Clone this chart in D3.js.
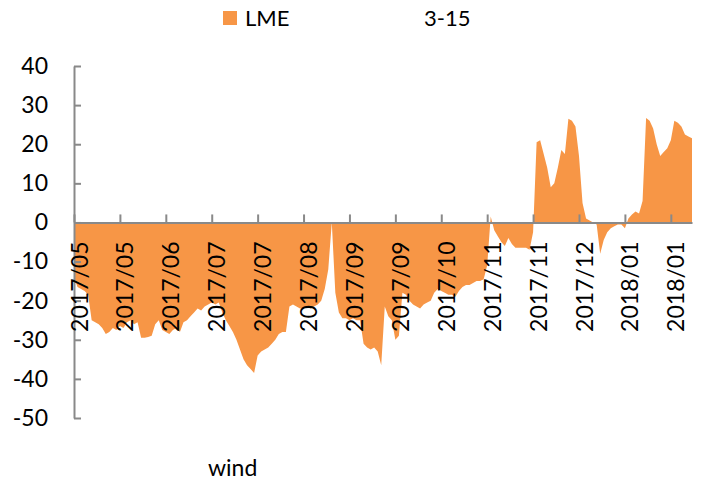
<!DOCTYPE html>
<html>
<head>
<meta charset="utf-8">
<script src="https://cdn.jsdelivr.net/npm/d3@7"></script>
<style>
  html, body { margin: 0; padding: 0; background: #fff; }
  svg { display: block; font-family: Lato, "Open Sans", sans-serif; }
</style>
</head>
<body>
<svg id="chart" width="705" height="486"></svg>
<script>
// ---- data ----
const seriesName = "LME";
const legendNote = "3-15";
const sourceNote = "wind";
const values = [
  -14, -16.5, -17, -17.5, -18.5, -25, -25.5, -26, -27, -28.5,
  -28, -27, -27.5, -26.5, -27, -25.5, -25, -26, -25.5, -29.5,
  -29.5, -29.3, -29, -26, -25, -27.5, -28, -28.5, -27.5, -27,
  -28, -25.5, -25, -24, -23, -22, -22.5, -21.5, -21, -20.5,
  -21, -20.5, -23, -25, -26.5, -28, -30, -32.5, -35, -36.5,
  -37.5, -38.5, -34, -33, -32.5, -32, -31, -30, -28.5, -28,
  -28, -21.5, -21, -21.5, -22, -22, -21.5, -22, -21.5, -21,
  -20, -17, -12, 0, -18, -23, -24.5, -24.5, -25, -24.5,
  -25, -25, -31, -32, -32.5, -32, -33, -36.5, -21.5, -24,
  -25, -30, -29, -18, -18.5, -20, -21, -21.5, -22, -21,
  -20.5, -20, -18, -17, -17.5, -18, -18.5, -18.5, -19, -17.5,
  -16.5, -16, -16, -15.5, -15, -15, -14.5, -11, 1.5, -2,
  -3.5, -5, -6, -4, -5.5, -6.5, -6.5, -6.5, -6.5, -7,
  -2.5, 20.5, 21, 17.5, 14, 9, 10, 14, 18.5, 17.5,
  26.5, 26, 24.5, 17, 5, 1, 0.5, 0, -0.5, -8,
  -4.5, -2.5, -1.5, -1, -0.5, -0.5, -1.5, 1, 2, 2.8,
  2.3, 5.5, 26.7, 26, 24, 20, 17, 18, 19, 21,
  26, 25.5, 24.5, 22.5, 22, 21.5
];
const xTickLabels = ["2017/05","2017/05","2017/06","2017/07","2017/07","2017/08","2017/09",
                     "2017/09","2017/10","2017/11","2017/11","2017/12","2018/01","2018/01"];
const xTickStep = 13;
const yTicks = [40, 30, 20, 10, 0, -10, -20, -30, -40, -50];

// ---- layout ----
const svg = d3.select("#chart");
const plotLeft = 74, plotRight = 692, plotTop = 66, plotBottom = 418;
const fill = "#F79646";
const axisColor = "#898989";
const fontSize = 23;

const x = d3.scaleLinear().domain([0, values.length - 1]).range([plotLeft, plotRight]);
const y = d3.scaleLinear().domain([-50, 40]).range([plotBottom, plotTop]);

// area
const area = d3.area()
  .x((d, i) => x(i))
  .y0(y(0))
  .y1(d => y(d));
svg.append("path")
  .datum(values)
  .attr("d", area)
  .attr("fill", fill);

// y axis (ticks inward)
const yAxis = d3.axisLeft(y)
  .tickValues(yTicks)
  .tickSize(-7)
  .tickSizeOuter(0)
  .tickPadding(26)
  .tickFormat(d => String(d));
const gy = svg.append("g").attr("transform", `translate(${plotLeft},0)`).call(yAxis);
gy.select(".domain").attr("stroke", axisColor).attr("stroke-width", 2);
gy.selectAll(".tick line").attr("stroke", axisColor).attr("stroke-width", 2);
gy.selectAll(".tick text")
  .attr("fill", "#000")
  .style("font-size", fontSize + "px")
  .style("font-family", "Lato, 'Open Sans', sans-serif");

// x axis at zero (ticks upward, rotated labels below)
const tickIdx = xTickLabels.map((_, i) => i * xTickStep);
const xAxis = d3.axisBottom(x)
  .tickValues(tickIdx)
  .tickSize(-8)
  .tickSizeOuter(0)
  .tickFormat((d, i) => xTickLabels[i]);
const gx = svg.append("g").attr("transform", `translate(0,${y(0)})`).call(xAxis);
gx.select(".domain").attr("stroke", axisColor).attr("stroke-width", 2);
gx.selectAll(".tick line").attr("stroke", axisColor).attr("stroke-width", 2);
gx.selectAll(".tick text")
  .attr("fill", "#000")
  .attr("x", 0).attr("y", 0).attr("dy", "0.35em")
  .attr("transform", "translate(5,19) rotate(-90)")
  .style("text-anchor", "end")
  .style("font-size", fontSize + "px")
  .style("font-family", "Lato, 'Open Sans', sans-serif");

// legend
svg.append("rect").attr("x", 223).attr("y", 11).attr("width", 14).attr("height", 14).attr("fill", fill);
svg.append("text").attr("x", 245).attr("y", 26).text(seriesName)
  .style("font-size", "22px").attr("fill", "#000");
svg.append("text").attr("x", 424).attr("y", 26).text(legendNote)
  .style("font-size", "22px").attr("fill", "#000");

// source
svg.append("text").attr("x", 208).attr("y", 476).text(sourceNote)
  .style("font-size", "23px").attr("fill", "#000");
</script>
</body>
</html>
